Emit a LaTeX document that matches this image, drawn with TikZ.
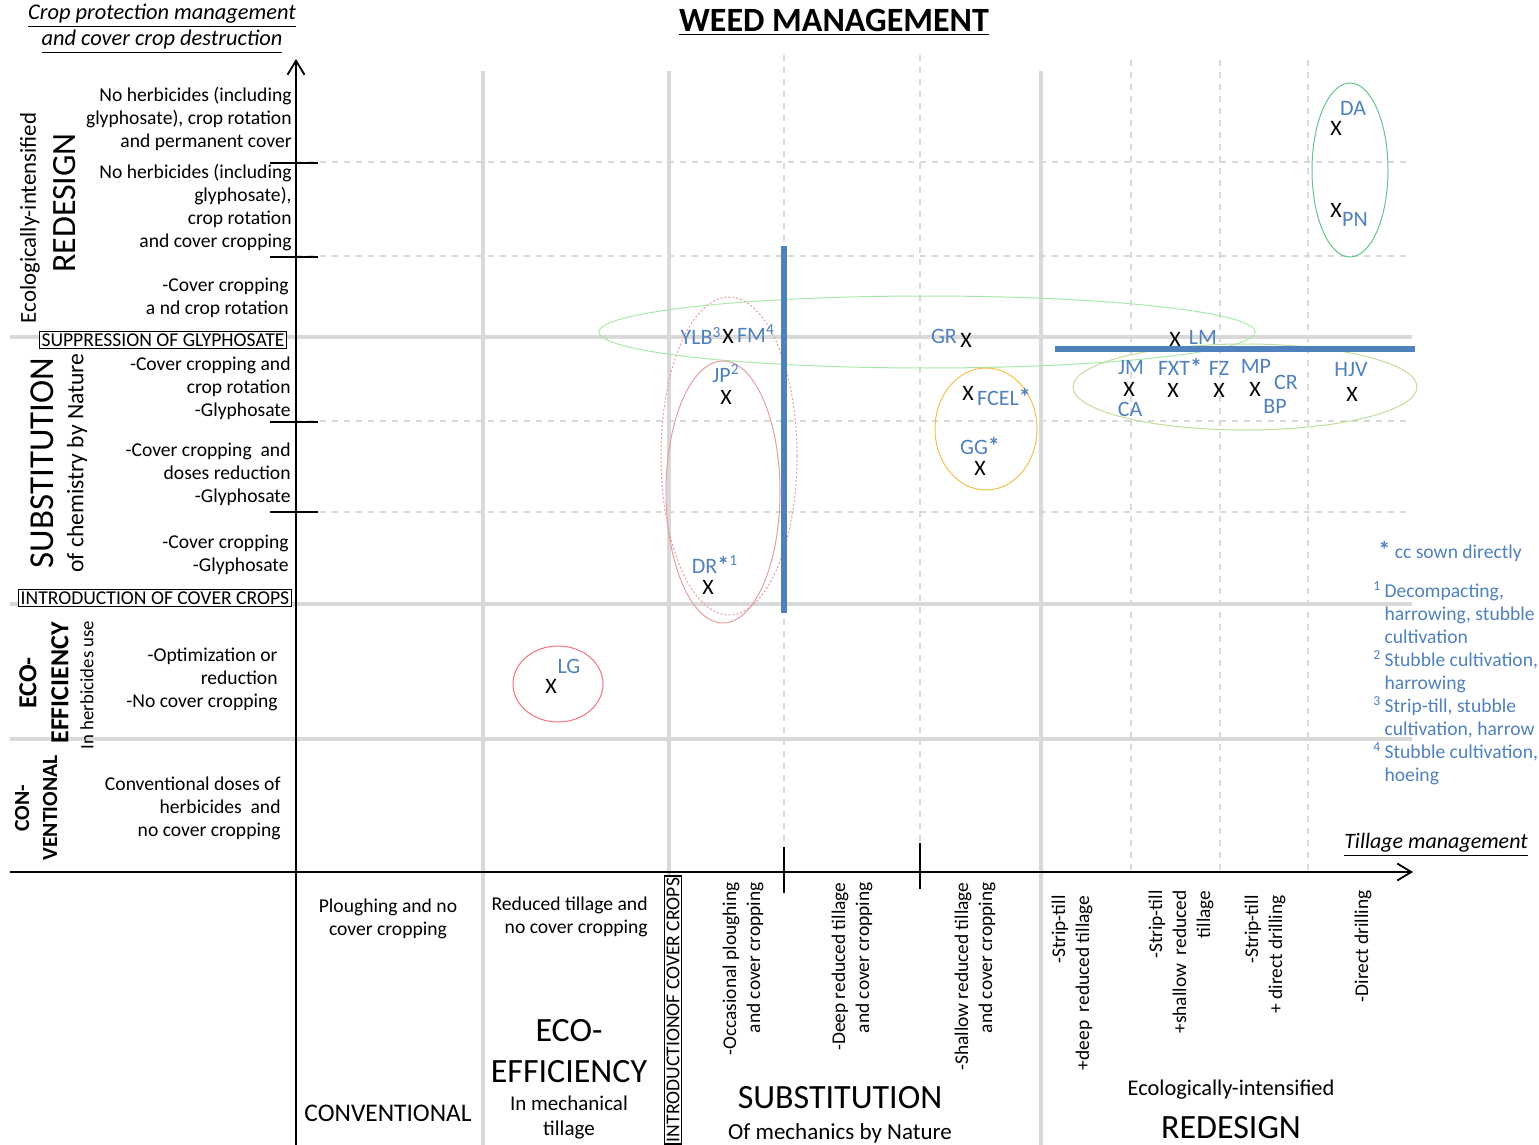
\documentclass[tikz,border=0pt]{standalone}
\usepackage{fontspec}
\setmainfont{Carlito}
\usetikzlibrary{arrows.meta}
\definecolor{gridgray}{HTML}{D9D9D9}
\definecolor{ptblue}{HTML}{4F81BD}
\definecolor{lightgreen}{HTML}{A8E8A8}
\definecolor{yellowgreen}{HTML}{BFDD9A}
\definecolor{midgreen}{HTML}{66C58A}
\definecolor{rosy}{HTML}{E3A0A0}
\definecolor{amber}{HTML}{F5C04A}
\definecolor{redring}{HTML}{F7707F}

\begin{document}
\begin{tikzpicture}[x=0.5pt,y=-0.5pt,
  gline/.style={gridgray,line width=2pt},
  dline/.style={gridgray,line width=0.7pt,dash pattern=on 3pt off 3pt},
  arrowaxis/.style={line width=0.9pt,-{Straight Barb[length=7pt,width=8.5pt]}},
  tickmark/.style={line width=0.7pt},
  bluebar/.style={ptblue,line width=3pt},
  ring/.style={line width=0.5pt},
  txt/.style={inner sep=0,font=\fontsize{9.8}{11.5}\selectfont},
  lefttxt/.style={txt,align=right,anchor=east},
  vtxt/.style={txt,align=right,anchor=east,rotate=90,font=\fontsize{9.7}{12}\selectfont},
  boxlab/.style={txt,draw,line width=0.6pt,fill=white,inner sep=1.2pt},
  lab/.style={inner sep=0,text=ptblue,font=\fontsize{11}{13}\selectfont},
  cross/.style={inner sep=0,font=\fontsize{11}{12}\selectfont}]
\useasboundingbox (0,0) rectangle (1539,1145);

% grid
\foreach \x in {483,669,1041} \draw[gline] (\x,71) -- (\x,1145);
\foreach \y in {337,604,739} \draw[gline] (10,\y) -- (1412,\y);
\foreach \x in {784,920} \draw[dline] (\x,55) -- (\x,845);
\foreach \x in {1131,1220,1308} \draw[dline] (\x,60) -- (\x,872);
\foreach \y in {162,256,421,512} \draw[dline] (296,\y) -- (1410,\y);

% axes
\coordinate (xl) at (10,872);
\coordinate (xr) at (1413,872);
\coordinate (yb) at (296,1145);
\coordinate (yt) at (296,59);
\draw[arrowaxis] (xl) -- (xr);
\draw[arrowaxis] (yb) -- (yt);
\foreach \y in {163,257,422,512} \draw[tickmark] (270,\y) -- (318,\y);
\draw[tickmark] (784,847) -- (784,893);
\draw[tickmark] (920,843) -- (920,889);

% groups
\draw[ring,draw=lightgreen] (927,332) ellipse [x radius=328, y radius=36];
\draw[ring,draw=yellowgreen] (1245,387) ellipse [x radius=172, y radius=43];
\draw[ring,draw=midgreen] (1350,170) ellipse [x radius=38, y radius=87];
\draw[ring,draw=rosy] (723,492) ellipse [x radius=57, y radius=131];
\draw[ring,draw=rosy,dash pattern=on 1pt off 1pt] (729,456) ellipse [x radius=68, y radius=159];
\draw[ring,draw=amber] (986,429) ellipse [x radius=51, y radius=61];
\draw[ring,draw=redring] (558,684) ellipse [x radius=45, y radius=38];

\draw[bluebar] (784,246) -- (784,613);
\draw[bluebar] (1055,349) -- (1415,349);

% titles
\node[txt,align=center,font=\fontsize{11.2}{13}\selectfont\itshape] (ytitle) at (162,29) {\underline{Crop protection management}\\\underline{and cover crop destruction}};
\node[txt,font=\fontsize{17}{20}\selectfont\bfseries] (title) at (834,22) {\underline{WEED MANAGEMENT}};
\node[txt,font=\fontsize{11}{13}\selectfont\itshape] (xtitle) at (1436,845) {\underline{Tillage management}};

% crop protection levels
\node[lefttxt] (r1) at (292,119) {No herbicides (including\\glyphosate), crop rotation\\and permanent cover};
\node[lefttxt] (r2) at (292,208) {No herbicides (including\\glyphosate),\\crop rotation\\and cover cropping};
\node[lefttxt] (r3) at (289,298) {-Cover cropping\\a nd crop rotation};
\node[boxlab] (sup) at (163,340) {SUPPRESSION OF GLYPHOSATE};
\node[lefttxt] (s1) at (291,388) {-Cover cropping and\\crop rotation\\-Glyphosate};
\node[lefttxt] (s2) at (291,474) {-Cover cropping~~and\\doses reduction\\-Glyphosate};
\node[lefttxt] (s3) at (289,555) {-Cover cropping\\-Glyphosate};
\node[boxlab] (intro) at (155,598) {INTRODUCTION OF COVER CROPS};
\node[lefttxt] (e1) at (278,679) {-Optimization or\\reduction\\-No cover cropping};
\node[lefttxt] (c1) at (281,808) {Conventional doses of\\herbicides~~and\\no cover cropping};

\node[txt,rotate=90,font=\fontsize{11.4}{12}\selectfont] (redA) at (30,218) {Ecologically-intensified};
\node[txt,rotate=90,font=\fontsize{17}{20}\selectfont] (redB) at (65,203) {REDESIGN};
\node[txt,rotate=90,font=\fontsize{17.5}{20}\selectfont] (subA) at (42,463) {SUBSTITUTION};
\node[txt,rotate=90,font=\fontsize{11.8}{12}\selectfont] (subB) at (77,463) {of chemistry by Nature};
\node[txt,rotate=90,align=center,font=\fontsize{13}{16}\selectfont\bfseries] (ecoA) at (44,683) {ECO-\\EFFICIENCY};
\node[txt,rotate=90,font=\fontsize{9.4}{11}\selectfont] (ecoB) at (87,685) {In herbicides use};
\node[txt,rotate=90,align=center,font=\fontsize{10.8}{14}\selectfont\bfseries] (conA) at (36,808) {CON-\\VENTIONAL};

% tillage levels
\node[txt,align=center] (b1) at (388,919) {Ploughing and no\\cover cropping};
\node[lefttxt] (b2) at (648,917) {Reduced tillage and\\no cover cropping};
\node[boxlab,rotate=90,inner sep=1pt] (intro2) at (673,1010) {INTRODUCTIONOF COVER CROPS};
\node[vtxt] (v1) at (743,882) {-Occasional ploughing\\and cover cropping};
\node[vtxt] (v2) at (852,882) {-Deep reduced tillage\\and cover cropping};
\node[vtxt] (v3) at (975,882) {-Shallow reduced tillage\\and cover cropping};
\node[vtxt] (v4) at (1072,895) {-Strip-till\\+deep~~reduced tillage};
\node[vtxt] (v5) at (1181,890) {-Strip-till\\+shallow~~reduced\\tillage};
\node[vtxt] (v6) at (1265,895) {-Strip-till\\+ direct drilling};
\node[vtxt] (v7) at (1363,890) {-Direct drilling};

\node[txt,font=\fontsize{12.7}{15}\selectfont] (conv) at (388,1113) {CONVENTIONAL};
\node[txt,align=center,font=\fontsize{17}{20.5}\selectfont] (ecoC) at (569,1051) {ECO-\\EFFICIENCY};
\node[txt,align=center,font=\fontsize{10.5}{12.5}\selectfont] (ecoD) at (569,1118) {In mechanical\\tillage};
\node[txt,font=\fontsize{17}{20}\selectfont] (subC) at (840,1098) {SUBSTITUTION};
\node[txt,font=\fontsize{11.5}{13}\selectfont] (subD) at (840,1133) {Of mechanics by Nature};
\node[txt,font=\fontsize{11.2}{12}\selectfont] (redC) at (1231,1090) {Ecologically-intensified};
\node[txt,font=\fontsize{17}{20}\selectfont] (redD) at (1231,1128) {REDESIGN};

% farms
\node[cross] (xYLB) at (728,336) {X};
\node[lab] (lYLB) at (701,336) {YLB\textsuperscript{3}};
\node[lab] (lFM) at (756,334) {FM\textsuperscript{4}};
\node[lab] (lGR) at (944,336) {GR};
\node[cross] (xGR) at (966,340) {X};
\node[lab] (lJP) at (726,374) {JP\textsuperscript{2}};
\node[cross] (xJP) at (726,397) {X};
\node[lab] (lDR) at (715,565) {DR{\bfseries\large*}\textsuperscript{1}};
\node[cross] (xDR) at (708,587) {X};
\node[cross] (xFCEL) at (968,393) {X};
\node[lab] (lFCEL) at (1004,397) {FCEL{\bfseries\large*}};
\node[lab] (lGG) at (980,446) {GG{\bfseries\large*}};
\node[cross] (xGG) at (980,468) {X};
\node[cross] (xLM) at (1175,339) {X};
\node[lab] (lLM) at (1203,337) {LM};
\node[lab] (lJM) at (1131,368) {JM};
\node[cross] (xJM) at (1129,389) {X};
\node[lab] (lCA) at (1130,409) {CA};
\node[lab] (lFXT) at (1180,367) {FXT{\bfseries\large*}};
\node[cross] (xFXT) at (1173,390) {X};
\node[lab] (lFZ) at (1219,368) {FZ};
\node[cross] (xFZ) at (1219,390) {X};
\node[lab] (lMP) at (1256,366) {MP};
\node[cross] (xMP) at (1255,389) {X};
\node[lab] (lCR) at (1286,382) {CR};
\node[lab] (lBP) at (1275,406) {BP};
\node[lab] (lHJV) at (1351,370) {HJV};
\node[cross] (xHJV) at (1352,394) {X};
\node[lab] (lDA) at (1353,108) {DA};
\node[cross] (xDA) at (1336,128) {X};
\node[cross] (xPN) at (1336,210) {X};
\node[lab] (lPN) at (1355,219) {PN};
\node[lab] (lLG) at (569,666) {LG};
\node[cross] (xLG) at (551,686) {X};

% notes
\node[txt,text=ptblue,anchor=west] (leg0) at (1378,551) {{\bfseries\large*} cc sown directly};
\node[txt,text=ptblue,anchor=north west] (leg1) at (1373,581) {\begin{tabular}{@{}l@{\,}l@{}}
\textsuperscript{1}&Decompacting,\\ &harrowing, stubble\\ &cultivation\\
\textsuperscript{2}&Stubble cultivation,\\ &harrowing\\
\textsuperscript{3}&Strip-till, stubble\\ &cultivation, harrow\\
\textsuperscript{4}&Stubble cultivation,\\ &hoeing
\end{tabular}};
\end{tikzpicture}
\end{document}
